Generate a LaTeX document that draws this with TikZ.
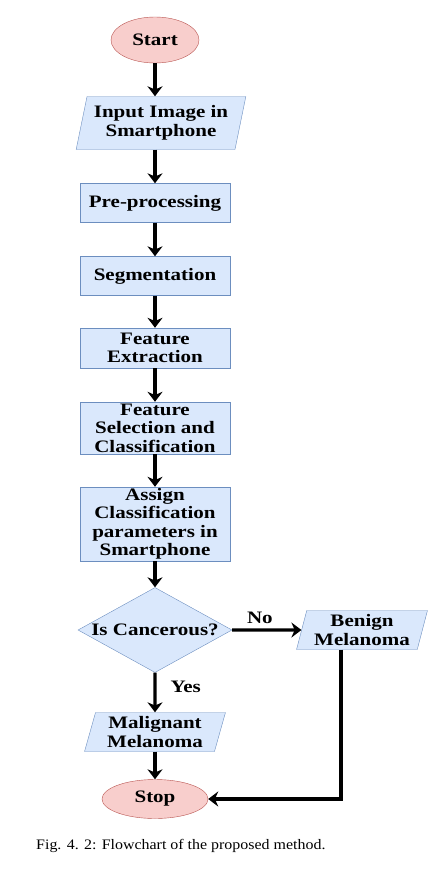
\documentclass[tikz,border=0pt]{standalone}
\usepackage{fontspec}
\setmainfont{Liberation Serif}[FakeStretch=1.1]
\newfontfamily\boxfont{Liberation Serif}[FakeStretch=1.2]
\usepackage{tikz}
\usetikzlibrary{shapes.geometric,arrows.meta}

\definecolor{boxblue}{HTML}{DAE8FC}
\definecolor{boxedge}{HTML}{6C8EBF}
\definecolor{termred}{HTML}{F8CECC}
\definecolor{termedge}{HTML}{B85450}

\begin{document}
\begin{tikzpicture}[x=1pt,y=-1pt,
    every node/.style={font=\boxfont\bfseries\fontsize{17.5}{18.5}\selectfont, align=center, inner sep=0pt},
    terminal/.style={ellipse, draw=termedge, fill=termred},
    process/.style={rectangle, draw=boxedge, fill=boxblue, minimum width=150pt},
    inout/.style={trapezium, trapezium left angle=74, trapezium right angle=106, trapezium stretches=true, draw=boxedge, fill=boxblue},
    decision/.style={diamond, aspect=1.8, inner sep=-2pt, draw=boxedge, fill=boxblue},
    flow/.style={-{Stealth[length=10pt,width=15pt]}, line width=3.1pt}]
    \useasboundingbox (0,0) rectangle (443,875);

    % Drawing the main column
    \node[terminal, minimum width=88pt, minimum height=46pt] (start) at (155,40) {Start};
    \node[inout, minimum width=170pt, minimum height=53pt] (input) at (161,123) {Input Image in\\Smartphone};
    \node[process, minimum height=39pt] (prep) at (155,203) {Pre-processing};
    \node[process, minimum height=39pt] (seg) at (155,276) {Segmentation};
    \node[process, minimum height=40pt] (extract) at (155,348) {Feature\\Extraction};
    \node[process, minimum height=52pt] (select) at (155,428) {Feature\\Selection and\\Classification};
    \node[process, minimum height=74pt] (assign) at (155,524) {Assign\\Classification\\parameters in\\Smartphone};
    \node[decision, minimum width=154pt, minimum height=85pt] (cancer) at (155,630) {Is Cancerous?};
    \node[inout, minimum width=141pt, minimum height=39pt] (malig) at (155,732) {Malignant\\Melanoma};
    \node[terminal, minimum width=106pt, minimum height=39pt] (stop) at (155,799) {Stop};

    % Drawing the side branch
    \node[inout, minimum width=131pt, minimum height=39pt] (benign) at (362,630) {Benign\\Melanoma};

    % Connecting the steps
    \foreach \a/\b in {start/input, input/prep, prep/seg, seg/extract, extract/select, select/assign, assign/cancer, malig/stop} {
        \draw[flow] (\a.south -| start) -- (\b.north -| start);
    }
    \draw[flow] (cancer.south) -- (malig.north) node[pos=0.35, right=14pt] {Yes};
    \draw[flow] (cancer.east) -- (benign.west) node[pos=0.4, above=5pt] {No};
    \draw[flow] ([xshift=-21pt]benign.south) |- (stop.east);

    % Caption
    \node[font=\rmfamily\fontsize{14.5}{16}\selectfont, anchor=west] (caption) at (36,846) {Fig. 4. 2: Flowchart of the proposed method.};
\end{tikzpicture}
\end{document}
